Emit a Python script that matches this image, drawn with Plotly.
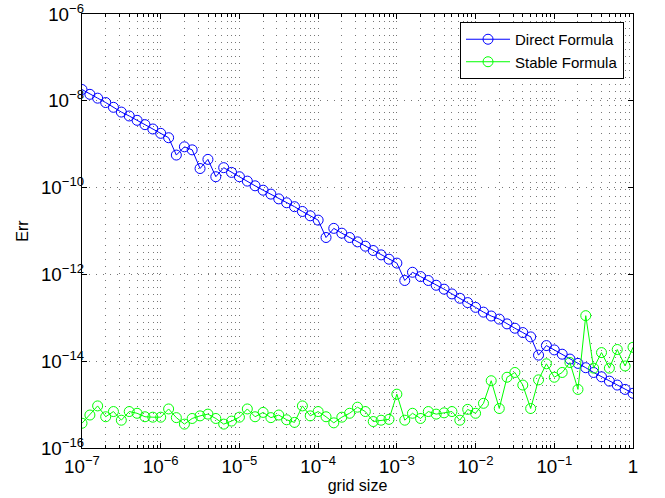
import plotly.graph_objects as go

# grid sizes (x values), 10 points per decade from 1e-7 to 1e0
grid_size = [
    1.00e-7, 1.26e-7, 1.58e-7, 2.00e-7, 2.51e-7, 3.16e-7, 3.98e-7, 5.01e-7, 6.31e-7, 7.94e-7,
    1.00e-6, 1.26e-6, 1.58e-6, 2.00e-6, 2.51e-6, 3.16e-6, 3.98e-6, 5.01e-6, 6.31e-6, 7.94e-6,
    1.00e-5, 1.26e-5, 1.58e-5, 2.00e-5, 2.51e-5, 3.16e-5, 3.98e-5, 5.01e-5, 6.31e-5, 7.94e-5,
    1.00e-4, 1.26e-4, 1.58e-4, 2.00e-4, 2.51e-4, 3.16e-4, 3.98e-4, 5.01e-4, 6.31e-4, 7.94e-4,
    1.00e-3, 1.26e-3, 1.58e-3, 2.00e-3, 2.51e-3, 3.16e-3, 3.98e-3, 5.01e-3, 6.31e-3, 7.94e-3,
    1.00e-2, 1.26e-2, 1.58e-2, 2.00e-2, 2.51e-2, 3.16e-2, 3.98e-2, 5.01e-2, 6.31e-2, 7.94e-2,
    1.00e-1, 1.26e-1, 1.58e-1, 2.00e-1, 2.51e-1, 3.16e-1, 3.98e-1, 5.01e-1, 6.31e-1, 7.94e-1,
    1.00e0,
]

direct_err = [
    1.82e-8, 1.41e-8, 1.15e-8, 9.12e-9, 7.08e-9, 5.50e-9, 4.47e-9, 3.55e-9, 2.82e-9, 2.24e-9,
    1.78e-9, 1.41e-9, 5.62e-10, 8.71e-10, 7.41e-10, 2.75e-10, 4.47e-10, 1.78e-10, 2.88e-10, 2.24e-10,
    1.78e-10, 1.41e-10, 1.10e-10, 8.71e-11, 7.08e-11, 5.50e-11, 4.47e-11, 3.63e-11, 2.82e-11, 2.24e-11,
    1.78e-11, 7.08e-12, 1.15e-11, 8.91e-12, 7.08e-12, 5.62e-12, 4.47e-12, 3.55e-12, 2.82e-12, 2.24e-12,
    1.82e-12, 7.24e-13, 1.12e-12, 8.91e-13, 7.24e-13, 5.62e-13, 4.57e-13, 3.55e-13, 2.82e-13, 2.24e-13,
    1.74e-13, 1.35e-13, 1.10e-13, 9.33e-14, 7.24e-14, 5.75e-14, 4.57e-14, 3.63e-14, 1.38e-14, 2.29e-14,
    1.82e-14, 1.45e-14, 1.12e-14, 8.91e-15, 7.08e-15, 5.50e-15, 4.37e-15, 3.47e-15, 2.82e-15, 2.24e-15,
    1.82e-15,
]

stable_err = [
    3.72e-16, 5.75e-16, 9.33e-16, 5.25e-16, 6.92e-16, 4.37e-16, 6.92e-16, 6.31e-16, 5.25e-16, 5.13e-16,
    5.13e-16, 7.94e-16, 5.01e-16, 3.55e-16, 4.79e-16, 5.50e-16, 6.03e-16, 4.79e-16, 3.55e-16, 4.17e-16,
    5.13e-16, 7.94e-16, 5.25e-16, 6.61e-16, 5.01e-16, 5.75e-16, 4.47e-16, 3.89e-16, 9.33e-16, 5.50e-16,
    6.92e-16, 5.25e-16, 3.80e-16, 5.13e-16, 6.31e-16, 8.71e-16, 6.92e-16, 4.07e-16, 4.37e-16, 4.57e-16,
    1.74e-15, 4.37e-16, 6.31e-16, 4.79e-16, 6.92e-16, 6.03e-16, 6.46e-16, 6.92e-16, 4.37e-16, 7.76e-16,
    6.31e-16, 1.07e-15, 3.55e-15, 8.13e-16, 4.27e-15, 5.50e-15, 2.82e-15, 8.13e-16, 3.72e-15, 8.71e-15,
    4.27e-15, 5.50e-15, 9.33e-15, 2.24e-15, 1.12e-13, 6.92e-15, 1.58e-14, 6.92e-15, 1.86e-14, 7.76e-15,
    2.09e-14,
]

series_names = ["Direct Formula", "Stable Formula"]
x_title = "grid size"
y_title = "Err"

fig = go.Figure()
fig.add_trace(go.Scatter(
    x=grid_size, y=direct_err, name=series_names[0], mode="lines+markers",
    line=dict(color="rgb(0,0,255)", width=1),
    marker=dict(symbol="circle-open", size=10, color="rgb(0,0,255)", line=dict(width=1)),
))
fig.add_trace(go.Scatter(
    x=grid_size, y=stable_err, name=series_names[1], mode="lines+markers",
    line=dict(color="rgb(0,255,0)", width=1),
    marker=dict(symbol="circle-open", size=10, color="rgb(0,255,0)", line=dict(width=1)),
))

font_family = "Liberation Sans, Arial, Helvetica, sans-serif"
grid_dash = "1px,6px"
grid_color = "#777777"

fig.update_layout(
    width=665, height=498,
    margin=dict(l=82, r=32, t=14, b=50, autoexpand=False),
    plot_bgcolor="white", paper_bgcolor="white",
    font=dict(family=font_family, size=15, color="black"),
    showlegend=True,
    legend=dict(
        x=0.9837, y=0.9816, xanchor="right", yanchor="top",
        bgcolor="white", bordercolor="black", borderwidth=1,
        font=dict(size=15, family=font_family, color="black"),
        tracegroupgap=0, itemwidth=44,
    ),
)

fig.update_xaxes(
    type="log", range=[-7, 0], dtick=1, exponentformat="power",
    automargin=False,
    showline=True, linecolor="black", linewidth=1, mirror="allticks",
    ticks="inside", ticklen=5, tickcolor="black",
    showgrid=True, gridcolor=grid_color, griddash=grid_dash, gridwidth=1,
    zeroline=False,
    tickfont=dict(size=15), ticklabelstandoff=2,
    minor=dict(ticks="inside", ticklen=3, tickcolor="black", showgrid=True,
               gridcolor=grid_color, griddash=grid_dash, gridwidth=1),
    title=dict(text=x_title, font=dict(size=16), standoff=3),
)
fig.update_yaxes(
    type="log", range=[-16, -6], dtick=2, exponentformat="power",
    automargin=False,
    showline=True, linecolor="black", linewidth=1, mirror="allticks",
    ticks="inside", ticklen=5, tickcolor="black",
    showgrid=True, gridcolor=grid_color, griddash=grid_dash, gridwidth=1,
    zeroline=False,
    tickfont=dict(size=15), ticklabelstandoff=-6,
    title=dict(text=y_title, font=dict(size=16), standoff=8),
)

fig.write_html(
    "out.html",
    config={"displayModeBar": False},
    post_script="document.body.style.margin='0';document.body.style.padding='0';",
)
